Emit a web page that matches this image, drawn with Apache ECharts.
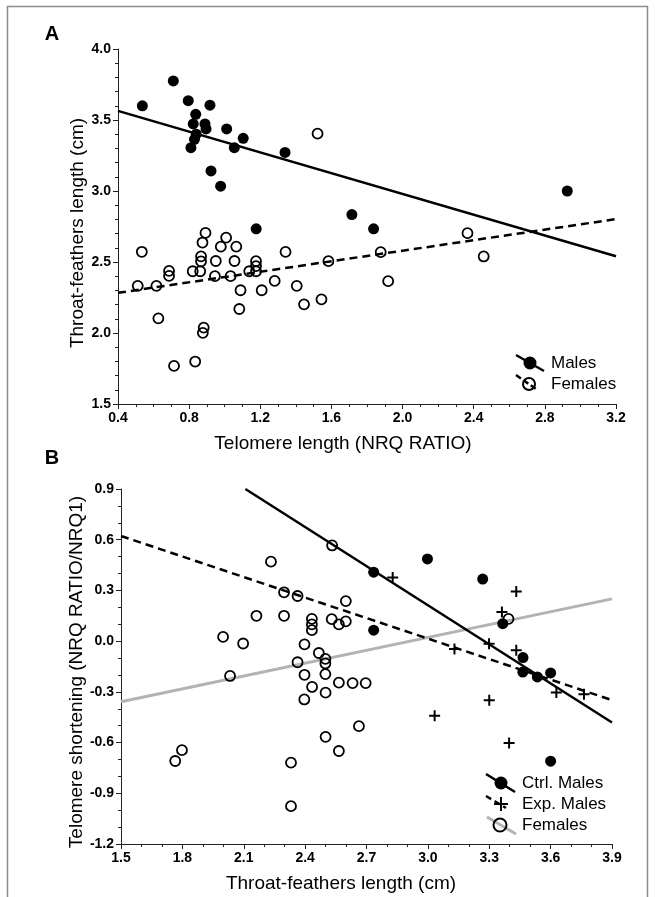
<!DOCTYPE html>
<html>
<head>
<meta charset="utf-8">
<script src="https://cdn.jsdelivr.net/npm/echarts@6/dist/echarts.min.js"></script>
<style>
html,body{margin:0;padding:0;background:#fff;}
#chart{width:655px;height:897px;}
</style>
</head>
<body>
<div id="chart"></div>
<script>
// ---------- Panel A data ----------
const aMales = [
  [0.537,3.60],[0.711,3.775],[0.795,3.636],[0.917,3.604],[0.837,3.540],
  [0.823,3.472],[0.889,3.472],[0.895,3.437],[1.011,3.437],[0.840,3.400],
  [0.830,3.364],[0.810,3.305],[1.104,3.371],[1.054,3.305],[1.339,3.272],
  [0.923,3.141],[0.977,3.034],[1.177,2.734],[1.715,2.834],[1.837,2.734],
  [2.926,3.000]
];
const aFemales = [
  [0.534,2.572],[0.511,2.332],[0.616,2.332],[0.627,2.103],[0.687,2.437],
  [0.687,2.402],[0.715,1.768],[0.834,1.799],[0.820,2.435],[0.862,2.435],
  [0.867,2.540],[0.867,2.505],[0.875,2.637],[0.892,2.705],[0.882,2.038],
  [0.877,2.001],[0.945,2.400],[0.950,2.507],[0.978,2.608],[1.008,2.672],
  [1.033,2.400],[1.055,2.507],[1.065,2.608],[1.089,2.301],[1.082,2.169],
  [1.138,2.435],[1.176,2.506],[1.176,2.471],[1.176,2.435],[1.208,2.301],
  [1.281,2.367],[1.342,2.571],[1.405,2.332],[1.446,2.202],[1.522,3.404],
  [1.544,2.237],[1.583,2.506],[1.877,2.569],[1.919,2.365],[2.365,2.703],
  [2.456,2.539]
];
const aMalesFit = [[0.4,3.564],[3.2,2.541]];
const aFemalesFit = [[0.4,2.283],[3.2,2.802]];
const aXTicks = {min:0.4, max:3.2, interval:0.4};
const aYTicks = {min:1.5, max:4.0, interval:0.5};

// ---------- Panel B data ----------
const bCtrlMales = [
  [2.735,0.408],[2.735,0.065],[2.998,0.486],[3.268,0.367],[3.366,0.103],
  [3.465,-0.097],[3.464,-0.183],[3.535,-0.212],[3.600,-0.188],[3.600,-0.710]
];
const bExpMales = [
  [2.828,0.377],[3.130,-0.046],[3.033,-0.442],[3.299,-0.016],[3.300,-0.350],
  [3.362,0.172],[3.432,0.294],[3.432,-0.054],[3.397,-0.603],[3.628,-0.304],
  [3.763,-0.314]
];
const bFemales = [
  [2.532,0.566],[2.233,0.470],[2.297,0.289],[2.363,0.267],[2.599,0.237],
  [2.162,0.150],[2.297,0.150],[2.433,0.132],[2.433,0.099],[2.433,0.065],
  [2.530,0.130],[2.565,0.099],[2.599,0.117],[1.999,0.025],[2.097,-0.014],
  [2.397,-0.019],[2.467,-0.070],[2.363,-0.125],[2.499,-0.105],[2.499,-0.132],
  [2.033,-0.206],[2.397,-0.199],[2.499,-0.195],[2.434,-0.271],[2.565,-0.245],
  [2.632,-0.248],[2.696,-0.248],[2.500,-0.305],[2.396,-0.345],[2.663,-0.503],
  [2.500,-0.566],[2.565,-0.650],[2.331,-0.719],[2.331,-0.976],[1.765,-0.709],
  [1.798,-0.645],[3.394,0.132]
];
const bCtrlFit = [[2.108,0.9],[3.9,-0.481]];
const bExpFit = [[1.5,0.622],[3.9,-0.349]];
const bFemFit = [[1.5,-0.359],[3.9,0.250]];
const bXTicks = {min:1.5, max:3.9, interval:0.3};
const bYTicks = {min:-1.2, max:0.9, interval:0.3};

// ---------- Styles ----------
const FONT = '"Liberation Sans", Arial, sans-serif';
const PLUS = 'path://M4.1,0H5.9V4.1H10V5.9H5.9V10H4.1V5.9H0V4.1H4.1Z';
const chart = echarts.init(document.getElementById('chart'), null, {renderer:'canvas'});

function axisCommon(t, minorSplit){
  return {
    type:'value', min:t.min, max:t.max, interval:t.interval,
    axisLine:{show:true, onZero:false, lineStyle:{color:'#222', width:1}},
    axisTick:{show:true, length:5, lineStyle:{color:'#222', width:1}},
    minorTick:{show:true, splitNumber:minorSplit, length:3, lineStyle:{color:'#222', width:1}},
    splitLine:{show:false},
    axisLabel:{color:'#000', fontFamily:FONT, fontWeight:'bold', fontSize:14, margin:7,
      formatter:v=>(Math.round(v*10)/10).toFixed(1), showMinLabel:true, showMaxLabel:true}
  };
}

const openCircle = {color:'rgba(0,0,0,0)', borderColor:'#000', borderWidth:1.8, opacity:1};
const filled = {color:'#000', opacity:1};

const option = {
  animation:false,
  backgroundColor:'#fff',
  grid:[
    {left:118, top:49, width:498, height:355},
    {left:121, top:489, width:491, height:355}
  ],
  xAxis:[
    Object.assign(axisCommon(aXTicks,4), {gridIndex:0}),
    Object.assign(axisCommon(bXTicks,3), {gridIndex:1})
  ],
  yAxis:[
    Object.assign(axisCommon(aYTicks,5), {gridIndex:0}),
    Object.assign(axisCommon(bYTicks,3), {gridIndex:1})
  ],
  series:[
    {type:'line', xAxisIndex:0, yAxisIndex:0, data:aMalesFit, showSymbol:false, z:1,
      lineStyle:{color:'#000', width:2.5}},
    {type:'line', xAxisIndex:0, yAxisIndex:0, data:aFemalesFit, showSymbol:false, z:1,
      lineStyle:{color:'#000', width:2.5, type:[8,5]}},
    {type:'scatter', xAxisIndex:0, yAxisIndex:0, data:aMales, symbol:'circle', symbolSize:11, z:3,
      itemStyle:filled},
    {type:'scatter', xAxisIndex:0, yAxisIndex:0, data:aFemales, symbol:'circle', symbolSize:10, z:3,
      itemStyle:openCircle},

    {type:'line', xAxisIndex:1, yAxisIndex:1, data:bFemFit, showSymbol:false, z:1,
      lineStyle:{color:'#b3b3b3', width:3}},
    {type:'line', xAxisIndex:1, yAxisIndex:1, data:bExpFit, showSymbol:false, z:1,
      lineStyle:{color:'#000', width:2.5, type:[8,5]}},
    {type:'line', xAxisIndex:1, yAxisIndex:1, data:bCtrlFit, showSymbol:false, z:1,
      lineStyle:{color:'#000', width:2.5}},
    {type:'scatter', xAxisIndex:1, yAxisIndex:1, data:bFemales, symbol:'circle', symbolSize:10, z:3,
      itemStyle:openCircle},
    {type:'scatter', xAxisIndex:1, yAxisIndex:1, data:bCtrlMales, symbol:'circle', symbolSize:11, z:3,
      itemStyle:filled},
    {type:'scatter', xAxisIndex:1, yAxisIndex:1, data:bExpMales, symbol:PLUS, symbolSize:11, z:3,
      itemStyle:filled}
  ],
  graphic:[
    // figure frame
    {type:'rect', shape:{x:7.5, y:6.5, width:640, height:920}, style:{fill:'none', stroke:'#8c8c8c', lineWidth:1.5}, z:0},
    // panel letters
    {type:'text', x:52, y:34, style:{text:'A', font:'bold 20px '+FONT, fill:'#000', textAlign:'center', textVerticalAlign:'middle'}},
    {type:'text', x:52, y:458, style:{text:'B', font:'bold 20px '+FONT, fill:'#000', textAlign:'center', textVerticalAlign:'middle'}},
    // axis titles
    {type:'text', x:343, y:444, style:{text:'Telomere length (NRQ RATIO)', font:'19px '+FONT, fill:'#000', textAlign:'center', textVerticalAlign:'middle'}},
    {type:'text', x:78, y:233, rotation:Math.PI/2, style:{text:'Throat-feathers length (cm)', font:'19px '+FONT, fill:'#000', textAlign:'center', textVerticalAlign:'middle'}},
    {type:'text', x:341, y:884, style:{text:'Throat-feathers length (cm)', font:'19px '+FONT, fill:'#000', textAlign:'center', textVerticalAlign:'middle'}},
    {type:'text', x:77, y:672, rotation:Math.PI/2, style:{text:'Telomere shortening (NRQ RATIO/NRQ1)', font:'19px '+FONT, fill:'#000', textAlign:'center', textVerticalAlign:'middle'}},

    // legend A
    {type:'line', shape:{x1:516, y1:355, x2:544, y2:371}, style:{stroke:'#000', lineWidth:2.5}},
    {type:'circle', shape:{cx:530, cy:363, r:6.5}, style:{fill:'#000'}},
    {type:'text', x:551, y:363, style:{text:'Males', font:'17px '+FONT, fill:'#000', textVerticalAlign:'middle'}},
    {type:'line', shape:{x1:516, y1:375, x2:536, y2:389}, style:{stroke:'#000', lineWidth:2.5, lineDash:[6,3]}},
    {type:'circle', shape:{cx:529, cy:384, r:6}, style:{fill:'none', stroke:'#000', lineWidth:2}},
    {type:'text', x:551, y:384, style:{text:'Females', font:'17px '+FONT, fill:'#000', textVerticalAlign:'middle'}},

    // legend B
    {type:'line', shape:{x1:486, y1:774, x2:515, y2:792}, style:{stroke:'#000', lineWidth:2.5}},
    {type:'circle', shape:{cx:501, cy:783, r:6.5}, style:{fill:'#000'}},
    {type:'text', x:522, y:783, style:{text:'Ctrl. Males', font:'17px '+FONT, fill:'#000', textVerticalAlign:'middle'}},
    {type:'line', shape:{x1:486, y1:796, x2:506, y2:808}, style:{stroke:'#000', lineWidth:2.5, lineDash:[6,4]}},
    {type:'rect', shape:{x:500, y:797, width:2, height:14}, style:{fill:'#000'}},
    {type:'rect', shape:{x:494, y:803, width:14, height:2}, style:{fill:'#000'}},
    {type:'text', x:522, y:804, style:{text:'Exp. Males', font:'17px '+FONT, fill:'#000', textVerticalAlign:'middle'}},
    {type:'line', shape:{x1:487, y1:817, x2:516, y2:834}, style:{stroke:'#b3b3b3', lineWidth:3}},
    {type:'circle', shape:{cx:500, cy:825, r:6.5}, style:{fill:'none', stroke:'#000', lineWidth:2}},
    {type:'text', x:522, y:825, style:{text:'Females', font:'17px '+FONT, fill:'#000', textVerticalAlign:'middle'}}
  ]
};
chart.setOption(option);
</script>
</body>
</html>
